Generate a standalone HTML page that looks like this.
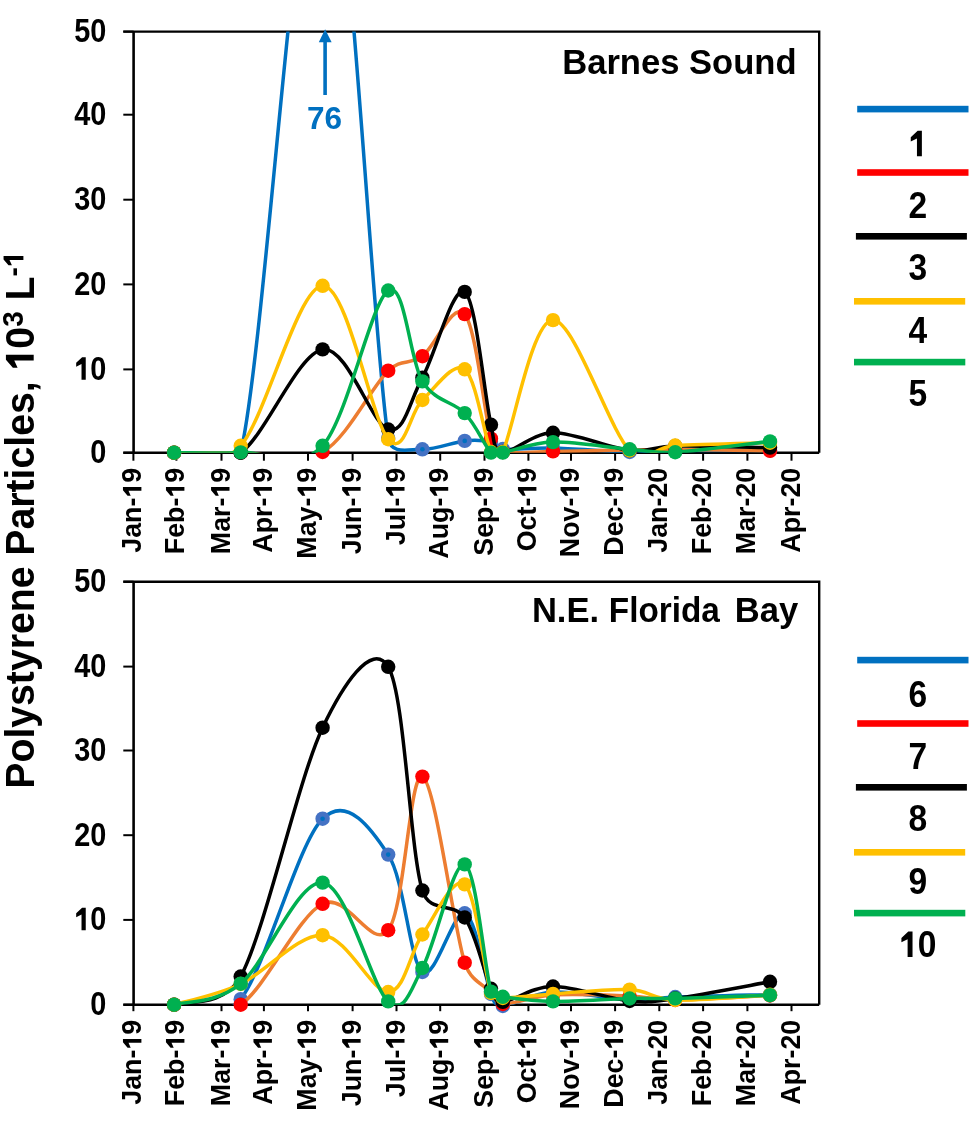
<!DOCTYPE html>
<html><head><meta charset="utf-8"><style>
html,body{margin:0;padding:0;background:#fff;}
body{width:969px;height:1128px;overflow:hidden;}
svg{display:block;will-change:transform;}
text{font-family:"Liberation Sans",sans-serif;font-weight:bold;fill:#000;}
.yt{font-size:32.8px;}
.t76{font-size:31.5px;}
.xt{font-size:26.8px;}
.ttl{font-size:34.6px;}
.lg{font-size:36.9px;}
.yttl{font-size:39.2px;}
.h1{fill-opacity:0;}
text{font-kerning:none;}
</style></head><body>
<svg width="969" height="1128" viewBox="0 0 969 1128">
<defs><clipPath id="c1"><rect x="133.6" y="31.6" width="685.6" height="421.1"/></clipPath><clipPath id="c2"><rect x="133.6" y="581.7" width="685.6" height="423.0"/></clipPath></defs>
<path d="M123.3,31.6 H819.2 V452.7" fill="none" stroke="#000" stroke-width="2.4"/>
<line x1="133.6" y1="31.6" x2="133.6" y2="452.7" stroke="#000" stroke-width="2.6"/>
<line x1="123.3" y1="452.7" x2="819.2" y2="452.7" stroke="#000" stroke-width="2.6"/>
<line x1="123.3" y1="31.6" x2="133.6" y2="31.6" stroke="#000" stroke-width="2"/>
<text class="yt" text-anchor="end" transform="translate(106.3,42.0) scale(0.88,1)">50</text>
<line x1="123.3" y1="114.7" x2="133.6" y2="114.7" stroke="#000" stroke-width="2"/>
<text class="yt" text-anchor="end" transform="translate(106.3,125.1) scale(0.88,1)">40</text>
<line x1="123.3" y1="199.7" x2="133.6" y2="199.7" stroke="#000" stroke-width="2"/>
<text class="yt" text-anchor="end" transform="translate(106.3,210.1) scale(0.88,1)">30</text>
<line x1="123.3" y1="284.4" x2="133.6" y2="284.4" stroke="#000" stroke-width="2"/>
<text class="yt" text-anchor="end" transform="translate(106.3,294.8) scale(0.88,1)">20</text>
<line x1="123.3" y1="369.4" x2="133.6" y2="369.4" stroke="#000" stroke-width="2"/>
<text class="yt" text-anchor="end" transform="translate(106.3,379.8) scale(0.88,1)"><tspan class="h1">1</tspan>0</text>
<line x1="123.3" y1="452.7" x2="133.6" y2="452.7" stroke="#000" stroke-width="2"/>
<text class="yt" text-anchor="end" transform="translate(106.3,463.1) scale(0.88,1)">0</text>
<line x1="133.4" y1="452.7" x2="133.4" y2="460.7" stroke="#000" stroke-width="2"/>
<text class="xt" text-anchor="end" transform="translate(141.4,467.8) rotate(-90)">Jan-<tspan class="h1">1</tspan>9</text>
<line x1="176.4" y1="452.7" x2="176.4" y2="460.7" stroke="#000" stroke-width="2"/>
<text class="xt" text-anchor="end" transform="translate(184.4,467.8) rotate(-90)">Feb-<tspan class="h1">1</tspan>9</text>
<line x1="221.5" y1="452.7" x2="221.5" y2="460.7" stroke="#000" stroke-width="2"/>
<text class="xt" text-anchor="end" transform="translate(229.5,467.8) rotate(-90)">Mar-<tspan class="h1">1</tspan>9</text>
<line x1="263.9" y1="452.7" x2="263.9" y2="460.7" stroke="#000" stroke-width="2"/>
<text class="xt" text-anchor="end" transform="translate(271.9,467.8) rotate(-90)">Apr-<tspan class="h1">1</tspan>9</text>
<line x1="308.0" y1="452.7" x2="308.0" y2="460.7" stroke="#000" stroke-width="2"/>
<text class="xt" text-anchor="end" transform="translate(316.0,467.8) rotate(-90)">May-<tspan class="h1">1</tspan>9</text>
<line x1="352.6" y1="452.7" x2="352.6" y2="460.7" stroke="#000" stroke-width="2"/>
<text class="xt" text-anchor="end" transform="translate(360.6,467.8) rotate(-90)">Jun-<tspan class="h1">1</tspan>9</text>
<line x1="396.5" y1="452.7" x2="396.5" y2="460.7" stroke="#000" stroke-width="2"/>
<text class="xt" text-anchor="end" transform="translate(404.5,467.8) rotate(-90)">Jul-<tspan class="h1">1</tspan>9</text>
<line x1="440.2" y1="452.7" x2="440.2" y2="460.7" stroke="#000" stroke-width="2"/>
<text class="xt" text-anchor="end" transform="translate(448.2,467.8) rotate(-90)">Aug-<tspan class="h1">1</tspan>9</text>
<line x1="484.5" y1="452.7" x2="484.5" y2="460.7" stroke="#000" stroke-width="2"/>
<text class="xt" text-anchor="end" transform="translate(492.5,467.8) rotate(-90)">Sep-<tspan class="h1">1</tspan>9</text>
<line x1="528.4" y1="452.7" x2="528.4" y2="460.7" stroke="#000" stroke-width="2"/>
<text class="xt" text-anchor="end" transform="translate(536.4,467.8) rotate(-90)">Oct-<tspan class="h1">1</tspan>9</text>
<line x1="571.0" y1="452.7" x2="571.0" y2="460.7" stroke="#000" stroke-width="2"/>
<text class="xt" text-anchor="end" transform="translate(579.0,467.8) rotate(-90)">Nov-<tspan class="h1">1</tspan>9</text>
<line x1="615.1" y1="452.7" x2="615.1" y2="460.7" stroke="#000" stroke-width="2"/>
<text class="xt" text-anchor="end" transform="translate(623.1,467.8) rotate(-90)">Dec-<tspan class="h1">1</tspan>9</text>
<line x1="659.3" y1="452.7" x2="659.3" y2="460.7" stroke="#000" stroke-width="2"/>
<text class="xt" text-anchor="end" transform="translate(667.3,467.8) rotate(-90)">Jan-20</text>
<line x1="703.1" y1="452.7" x2="703.1" y2="460.7" stroke="#000" stroke-width="2"/>
<text class="xt" text-anchor="end" transform="translate(711.1,467.8) rotate(-90)">Feb-20</text>
<line x1="747.4" y1="452.7" x2="747.4" y2="460.7" stroke="#000" stroke-width="2"/>
<text class="xt" text-anchor="end" transform="translate(755.4,467.8) rotate(-90)">Mar-20</text>
<line x1="791.5" y1="452.7" x2="791.5" y2="460.7" stroke="#000" stroke-width="2"/>
<text class="xt" text-anchor="end" transform="translate(799.5,467.8) rotate(-90)">Apr-20</text>
<text x="796.6" y="73.5" class="ttl" text-anchor="end">Barnes Sound</text>
<path d="M174.10,452.70 C185.20,452.70 233.18,485.14 240.70,452.70 C265.45,346.00 298.02,-185.07 322.60,-187.52 C347.18,-189.97 371.57,331.86 388.20,438.00 C390.99,455.79 409.65,448.82 422.40,449.30 C435.15,449.78 453.27,442.12 464.70,440.90 C476.13,439.68 484.65,440.65 491.00,442.00 C497.35,443.35 495.97,448.34 502.80,449.00 C513.13,450.00 531.87,447.50 553.00,448.00 C574.13,448.50 609.23,451.58 629.60,452.00 C649.97,452.42 652.39,450.74 675.20,450.50 C698.60,450.25 754.20,450.50 770.00,450.50" fill="none" stroke="#0070C0" stroke-width="3.5" stroke-linejoin="round" clip-path="url(#c1)"/>
<circle cx="174.1" cy="452.7" r="7.2" fill="#4472C4"/>
<circle cx="174.1" cy="452.7" r="2.3" fill="#0070C0"/>
<circle cx="240.7" cy="452.7" r="7.2" fill="#4472C4"/>
<circle cx="240.7" cy="452.7" r="2.3" fill="#0070C0"/>
<circle cx="388.2" cy="438.0" r="7.2" fill="#4472C4"/>
<circle cx="388.2" cy="438.0" r="2.3" fill="#0070C0"/>
<circle cx="422.4" cy="449.3" r="7.2" fill="#4472C4"/>
<circle cx="422.4" cy="449.3" r="2.3" fill="#0070C0"/>
<circle cx="464.7" cy="440.9" r="7.2" fill="#4472C4"/>
<circle cx="464.7" cy="440.9" r="2.3" fill="#0070C0"/>
<circle cx="491.0" cy="442.0" r="7.2" fill="#4472C4"/>
<circle cx="491.0" cy="442.0" r="2.3" fill="#0070C0"/>
<circle cx="502.8" cy="449.0" r="7.2" fill="#4472C4"/>
<circle cx="502.8" cy="449.0" r="2.3" fill="#0070C0"/>
<circle cx="553.0" cy="448.0" r="7.2" fill="#4472C4"/>
<circle cx="553.0" cy="448.0" r="2.3" fill="#0070C0"/>
<circle cx="629.6" cy="452.0" r="7.2" fill="#4472C4"/>
<circle cx="629.6" cy="452.0" r="2.3" fill="#0070C0"/>
<circle cx="675.2" cy="450.5" r="7.2" fill="#4472C4"/>
<circle cx="675.2" cy="450.5" r="2.3" fill="#0070C0"/>
<circle cx="770.0" cy="450.5" r="7.2" fill="#4472C4"/>
<circle cx="770.0" cy="450.5" r="2.3" fill="#0070C0"/>
<path d="M174.10,452.70 C185.20,452.70 215.95,452.82 240.70,452.70 C265.45,452.58 298.02,465.67 322.60,452.00 C347.18,438.33 371.57,386.67 388.20,370.70 C401.60,357.84 409.65,365.63 422.40,356.20 C435.15,346.77 453.27,300.35 464.70,314.10 C476.13,327.85 484.65,415.72 491.00,438.70 C493.37,447.27 494.09,450.22 502.80,452.00 C513.13,454.12 531.87,451.73 553.00,451.40 C574.13,451.07 609.23,450.32 629.60,450.00 C649.97,449.68 652.40,449.37 675.20,449.50 C698.60,449.63 754.20,450.58 770.00,450.80" fill="none" stroke="#ED7D31" stroke-width="3.5" stroke-linejoin="round" clip-path="url(#c1)"/>
<circle cx="174.1" cy="452.7" r="7.2" fill="#FF0000"/>
<circle cx="240.7" cy="452.7" r="7.2" fill="#FF0000"/>
<circle cx="322.6" cy="452.0" r="7.2" fill="#FF0000"/>
<circle cx="388.2" cy="370.7" r="7.2" fill="#FF0000"/>
<circle cx="422.4" cy="356.2" r="7.2" fill="#FF0000"/>
<circle cx="464.7" cy="314.1" r="7.2" fill="#FF0000"/>
<circle cx="491.0" cy="438.7" r="7.2" fill="#FF0000"/>
<circle cx="502.8" cy="452.0" r="7.2" fill="#FF0000"/>
<circle cx="553.0" cy="451.4" r="7.2" fill="#FF0000"/>
<circle cx="629.6" cy="450.0" r="7.2" fill="#FF0000"/>
<circle cx="675.2" cy="449.5" r="7.2" fill="#FF0000"/>
<circle cx="770.0" cy="450.8" r="7.2" fill="#FF0000"/>
<path d="M174.10,452.70 C185.20,452.70 215.95,469.92 240.70,452.70 C265.45,435.48 298.02,353.27 322.60,349.40 C347.18,345.53 371.57,424.78 388.20,429.50 C404.83,434.22 409.65,400.63 422.40,377.70 C435.15,354.77 453.27,284.05 464.70,291.90 C476.13,299.75 484.65,398.12 491.00,424.80 C494.43,439.22 492.47,450.67 502.80,452.00 C513.13,453.33 531.87,433.08 553.00,432.80 C574.13,432.52 609.23,448.10 629.60,450.30 C649.97,452.50 652.30,446.44 675.20,446.00 C698.60,445.55 754.20,447.33 770.00,447.60" fill="none" stroke="#000000" stroke-width="3.5" stroke-linejoin="round" clip-path="url(#c1)"/>
<circle cx="174.1" cy="452.7" r="7.2" fill="#000000"/>
<circle cx="240.7" cy="452.7" r="7.2" fill="#000000"/>
<circle cx="322.6" cy="349.4" r="7.2" fill="#000000"/>
<circle cx="388.2" cy="429.5" r="7.2" fill="#000000"/>
<circle cx="422.4" cy="377.7" r="7.2" fill="#000000"/>
<circle cx="464.7" cy="291.9" r="7.2" fill="#000000"/>
<circle cx="491.0" cy="424.8" r="7.2" fill="#000000"/>
<circle cx="502.8" cy="452.0" r="7.2" fill="#000000"/>
<circle cx="553.0" cy="432.8" r="7.2" fill="#000000"/>
<circle cx="629.6" cy="450.3" r="7.2" fill="#000000"/>
<circle cx="675.2" cy="446.0" r="7.2" fill="#000000"/>
<circle cx="770.0" cy="447.6" r="7.2" fill="#000000"/>
<path d="M174.10,452.70 C185.20,451.55 218.45,470.81 240.70,445.80 C265.45,417.98 298.02,286.90 322.60,285.80 C347.18,284.70 371.57,420.17 388.20,439.20 C404.83,458.23 409.65,411.65 422.40,400.00 C435.15,388.35 453.27,360.63 464.70,369.30 C476.13,377.97 484.65,438.22 491.00,452.00 C493.47,457.36 500.29,457.34 502.80,452.00 C513.13,430.02 531.87,320.35 553.00,320.10 C574.13,319.85 609.23,429.60 629.60,450.50 C645.61,466.93 652.30,446.77 675.20,445.50 C698.60,444.20 754.20,443.17 770.00,442.70" fill="none" stroke="#FFC000" stroke-width="3.5" stroke-linejoin="round" clip-path="url(#c1)"/>
<circle cx="174.1" cy="452.7" r="7.2" fill="#FFC000"/>
<circle cx="240.7" cy="445.8" r="7.2" fill="#FFC000"/>
<circle cx="322.6" cy="285.8" r="7.2" fill="#FFC000"/>
<circle cx="388.2" cy="439.2" r="7.2" fill="#FFC000"/>
<circle cx="422.4" cy="400.0" r="7.2" fill="#FFC000"/>
<circle cx="464.7" cy="369.3" r="7.2" fill="#FFC000"/>
<circle cx="491.0" cy="452.0" r="7.2" fill="#FFC000"/>
<circle cx="502.8" cy="452.0" r="7.2" fill="#FFC000"/>
<circle cx="553.0" cy="320.1" r="7.2" fill="#FFC000"/>
<circle cx="629.6" cy="450.5" r="7.2" fill="#FFC000"/>
<circle cx="675.2" cy="445.5" r="7.2" fill="#FFC000"/>
<circle cx="770.0" cy="442.7" r="7.2" fill="#FFC000"/>
<path d="M174.10,452.70 C185.20,452.65 215.95,453.55 240.70,452.40 C265.45,451.25 298.02,472.78 322.60,445.80 C347.18,418.82 371.57,301.23 388.20,290.50 C404.83,279.77 409.65,360.97 422.40,381.40 C435.15,401.83 453.27,401.23 464.70,413.10 C476.13,424.97 484.65,446.02 491.00,452.60 C495.10,456.85 496.98,453.59 502.80,452.60 C513.13,450.85 531.87,442.65 553.00,442.10 C574.13,441.55 609.23,447.62 629.60,449.30 C649.97,450.98 652.39,453.48 675.20,452.20 C698.60,450.88 754.20,443.20 770.00,441.40" fill="none" stroke="#00B050" stroke-width="3.5" stroke-linejoin="round" clip-path="url(#c1)"/>
<circle cx="174.1" cy="452.7" r="7.2" fill="#00B050"/>
<circle cx="240.7" cy="452.4" r="7.2" fill="#00B050"/>
<circle cx="322.6" cy="445.8" r="7.2" fill="#00B050"/>
<circle cx="388.2" cy="290.5" r="7.2" fill="#00B050"/>
<circle cx="422.4" cy="381.4" r="7.2" fill="#00B050"/>
<circle cx="464.7" cy="413.1" r="7.2" fill="#00B050"/>
<circle cx="491.0" cy="452.6" r="7.2" fill="#00B050"/>
<circle cx="502.8" cy="452.6" r="7.2" fill="#00B050"/>
<circle cx="553.0" cy="442.1" r="7.2" fill="#00B050"/>
<circle cx="629.6" cy="449.3" r="7.2" fill="#00B050"/>
<circle cx="675.2" cy="452.2" r="7.2" fill="#00B050"/>
<circle cx="770.0" cy="441.4" r="7.2" fill="#00B050"/>
<line x1="325.1" y1="95" x2="325.1" y2="40" stroke="#0070C0" stroke-width="3.6"/>
<path d="M318.8,42.3 L325.1,29.2 L331.6,42.3 Z" fill="#0070C0"/>
<text x="324.4" y="129" class="t76" text-anchor="middle" style="fill:#0070C0">76</text>
<rect x="857.2" y="105.8" width="111.3" height="6.6" fill="#0070C0"/>
<rect x="857.2" y="169.2" width="111.3" height="6.6" fill="#FF0000"/>
<rect x="855.9" y="233.0" width="111.0" height="6.6" fill="#000000"/>
<rect x="854.0" y="298.0" width="111.2" height="6.6" fill="#FFC000"/>
<rect x="854.0" y="358.8" width="111.3" height="6.6" fill="#00B050"/>
<text class="lg" text-anchor="middle" transform="translate(917.8,156.2) scale(0.91,1)"><tspan class="h1">1</tspan></text>
<text class="lg" text-anchor="middle" transform="translate(917.8,217.5) scale(0.91,1)">2</text>
<text class="lg" text-anchor="middle" transform="translate(917.8,280.2) scale(0.91,1)">3</text>
<text class="lg" text-anchor="middle" transform="translate(917.8,343.1) scale(0.91,1)">4</text>
<text class="lg" text-anchor="middle" transform="translate(917.8,406.0) scale(0.91,1)">5</text>
<path d="M123.3,581.7 H819.2 V1004.7" fill="none" stroke="#000" stroke-width="2.4"/>
<line x1="133.6" y1="581.7" x2="133.6" y2="1004.7" stroke="#000" stroke-width="2.6"/>
<line x1="123.3" y1="1004.7" x2="819.2" y2="1004.7" stroke="#000" stroke-width="2.6"/>
<line x1="123.3" y1="581.7" x2="133.6" y2="581.7" stroke="#000" stroke-width="2"/>
<text class="yt" text-anchor="end" transform="translate(106.3,592.1) scale(0.88,1)">50</text>
<line x1="123.3" y1="666.6" x2="133.6" y2="666.6" stroke="#000" stroke-width="2"/>
<text class="yt" text-anchor="end" transform="translate(106.3,677.0) scale(0.88,1)">40</text>
<line x1="123.3" y1="750.5" x2="133.6" y2="750.5" stroke="#000" stroke-width="2"/>
<text class="yt" text-anchor="end" transform="translate(106.3,760.9) scale(0.88,1)">30</text>
<line x1="123.3" y1="835.2" x2="133.6" y2="835.2" stroke="#000" stroke-width="2"/>
<text class="yt" text-anchor="end" transform="translate(106.3,845.6) scale(0.88,1)">20</text>
<line x1="123.3" y1="919.9" x2="133.6" y2="919.9" stroke="#000" stroke-width="2"/>
<text class="yt" text-anchor="end" transform="translate(106.3,930.3) scale(0.88,1)"><tspan class="h1">1</tspan>0</text>
<line x1="123.3" y1="1004.7" x2="133.6" y2="1004.7" stroke="#000" stroke-width="2"/>
<text class="yt" text-anchor="end" transform="translate(106.3,1015.1) scale(0.88,1)">0</text>
<line x1="133.4" y1="1004.7" x2="133.4" y2="1011.2" stroke="#000" stroke-width="2"/>
<text class="xt" text-anchor="end" transform="translate(141.4,1019.8) rotate(-90)">Jan-<tspan class="h1">1</tspan>9</text>
<line x1="176.4" y1="1004.7" x2="176.4" y2="1011.2" stroke="#000" stroke-width="2"/>
<text class="xt" text-anchor="end" transform="translate(184.4,1019.8) rotate(-90)">Feb-<tspan class="h1">1</tspan>9</text>
<line x1="221.5" y1="1004.7" x2="221.5" y2="1011.2" stroke="#000" stroke-width="2"/>
<text class="xt" text-anchor="end" transform="translate(229.5,1019.8) rotate(-90)">Mar-<tspan class="h1">1</tspan>9</text>
<line x1="263.9" y1="1004.7" x2="263.9" y2="1011.2" stroke="#000" stroke-width="2"/>
<text class="xt" text-anchor="end" transform="translate(271.9,1019.8) rotate(-90)">Apr-<tspan class="h1">1</tspan>9</text>
<line x1="308.0" y1="1004.7" x2="308.0" y2="1011.2" stroke="#000" stroke-width="2"/>
<text class="xt" text-anchor="end" transform="translate(316.0,1019.8) rotate(-90)">May-<tspan class="h1">1</tspan>9</text>
<line x1="352.6" y1="1004.7" x2="352.6" y2="1011.2" stroke="#000" stroke-width="2"/>
<text class="xt" text-anchor="end" transform="translate(360.6,1019.8) rotate(-90)">Jun-<tspan class="h1">1</tspan>9</text>
<line x1="396.5" y1="1004.7" x2="396.5" y2="1011.2" stroke="#000" stroke-width="2"/>
<text class="xt" text-anchor="end" transform="translate(404.5,1019.8) rotate(-90)">Jul-<tspan class="h1">1</tspan>9</text>
<line x1="440.2" y1="1004.7" x2="440.2" y2="1011.2" stroke="#000" stroke-width="2"/>
<text class="xt" text-anchor="end" transform="translate(448.2,1019.8) rotate(-90)">Aug-<tspan class="h1">1</tspan>9</text>
<line x1="484.5" y1="1004.7" x2="484.5" y2="1011.2" stroke="#000" stroke-width="2"/>
<text class="xt" text-anchor="end" transform="translate(492.5,1019.8) rotate(-90)">Sep-<tspan class="h1">1</tspan>9</text>
<line x1="528.4" y1="1004.7" x2="528.4" y2="1011.2" stroke="#000" stroke-width="2"/>
<text class="xt" text-anchor="end" transform="translate(536.4,1019.8) rotate(-90)">Oct-<tspan class="h1">1</tspan>9</text>
<line x1="571.0" y1="1004.7" x2="571.0" y2="1011.2" stroke="#000" stroke-width="2"/>
<text class="xt" text-anchor="end" transform="translate(579.0,1019.8) rotate(-90)">Nov-<tspan class="h1">1</tspan>9</text>
<line x1="615.1" y1="1004.7" x2="615.1" y2="1011.2" stroke="#000" stroke-width="2"/>
<text class="xt" text-anchor="end" transform="translate(623.1,1019.8) rotate(-90)">Dec-<tspan class="h1">1</tspan>9</text>
<line x1="659.3" y1="1004.7" x2="659.3" y2="1011.2" stroke="#000" stroke-width="2"/>
<text class="xt" text-anchor="end" transform="translate(667.3,1019.8) rotate(-90)">Jan-20</text>
<line x1="703.1" y1="1004.7" x2="703.1" y2="1011.2" stroke="#000" stroke-width="2"/>
<text class="xt" text-anchor="end" transform="translate(711.1,1019.8) rotate(-90)">Feb-20</text>
<line x1="747.4" y1="1004.7" x2="747.4" y2="1011.2" stroke="#000" stroke-width="2"/>
<text class="xt" text-anchor="end" transform="translate(755.4,1019.8) rotate(-90)">Mar-20</text>
<line x1="791.5" y1="1004.7" x2="791.5" y2="1011.2" stroke="#000" stroke-width="2"/>
<text class="xt" text-anchor="end" transform="translate(799.5,1019.8) rotate(-90)">Apr-20</text>
<text x="531.9" y="621.9" class="ttl">N.E.</text>
<text class="ttl" transform="translate(608.8,621.9) scale(0.963,1)">Florida</text>
<text x="798.3" y="621.9" class="ttl" text-anchor="end">Bay</text>
<path d="M174.10,1004.70 C185.20,1003.78 219.85,1025.31 240.70,999.20 C265.45,968.20 298.02,842.80 322.60,818.70 C347.18,794.60 371.57,829.05 388.20,854.60 C404.83,880.15 409.65,962.22 422.40,972.00 C435.15,981.78 453.27,909.63 464.70,913.30 C476.13,916.97 484.65,978.55 491.00,994.00 C494.20,1001.78 494.39,1006.27 502.80,1006.00 C513.13,1005.67 531.87,993.00 553.00,992.00 C574.13,991.00 609.23,999.17 629.60,1000.00 C649.97,1000.83 652.37,997.89 675.20,997.00 C698.60,996.08 754.20,994.92 770.00,994.50" fill="none" stroke="#0070C0" stroke-width="3.5" stroke-linejoin="round" clip-path="url(#c2)"/>
<circle cx="174.1" cy="1004.7" r="7.2" fill="#4472C4"/>
<circle cx="174.1" cy="1004.7" r="2.3" fill="#0070C0"/>
<circle cx="240.7" cy="999.2" r="7.2" fill="#4472C4"/>
<circle cx="240.7" cy="999.2" r="2.3" fill="#0070C0"/>
<circle cx="322.6" cy="818.7" r="7.2" fill="#4472C4"/>
<circle cx="322.6" cy="818.7" r="2.3" fill="#0070C0"/>
<circle cx="388.2" cy="854.6" r="7.2" fill="#4472C4"/>
<circle cx="388.2" cy="854.6" r="2.3" fill="#0070C0"/>
<circle cx="422.4" cy="972.0" r="7.2" fill="#4472C4"/>
<circle cx="422.4" cy="972.0" r="2.3" fill="#0070C0"/>
<circle cx="464.7" cy="913.3" r="7.2" fill="#4472C4"/>
<circle cx="464.7" cy="913.3" r="2.3" fill="#0070C0"/>
<circle cx="491.0" cy="994.0" r="7.2" fill="#4472C4"/>
<circle cx="491.0" cy="994.0" r="2.3" fill="#0070C0"/>
<circle cx="502.8" cy="1006.0" r="7.2" fill="#4472C4"/>
<circle cx="502.8" cy="1006.0" r="2.3" fill="#0070C0"/>
<circle cx="553.0" cy="992.0" r="7.2" fill="#4472C4"/>
<circle cx="553.0" cy="992.0" r="2.3" fill="#0070C0"/>
<circle cx="629.6" cy="1000.0" r="7.2" fill="#4472C4"/>
<circle cx="629.6" cy="1000.0" r="2.3" fill="#0070C0"/>
<circle cx="675.2" cy="997.0" r="7.2" fill="#4472C4"/>
<circle cx="675.2" cy="997.0" r="2.3" fill="#0070C0"/>
<circle cx="770.0" cy="994.5" r="7.2" fill="#4472C4"/>
<circle cx="770.0" cy="994.5" r="2.3" fill="#0070C0"/>
<path d="M174.10,1004.70 C185.20,1004.70 215.95,1021.52 240.70,1004.70 C265.45,987.88 298.02,916.22 322.60,903.80 C347.18,891.38 371.57,951.40 388.20,930.20 C404.83,909.00 409.65,771.18 422.40,776.60 C435.15,782.02 453.27,926.80 464.70,962.70 C470.67,981.46 484.65,985.12 491.00,992.00 C496.71,998.18 494.39,1003.59 502.80,1004.00 C513.13,1004.50 531.87,996.33 553.00,995.00 C574.13,993.67 609.23,995.17 629.60,996.00 C649.97,996.83 652.31,1000.08 675.20,1000.00 C698.60,999.92 754.20,996.25 770.00,995.50" fill="none" stroke="#ED7D31" stroke-width="3.5" stroke-linejoin="round" clip-path="url(#c2)"/>
<circle cx="174.1" cy="1004.7" r="7.2" fill="#FF0000"/>
<circle cx="240.7" cy="1004.7" r="7.2" fill="#FF0000"/>
<circle cx="322.6" cy="903.8" r="7.2" fill="#FF0000"/>
<circle cx="388.2" cy="930.2" r="7.2" fill="#FF0000"/>
<circle cx="422.4" cy="776.6" r="7.2" fill="#FF0000"/>
<circle cx="464.7" cy="962.7" r="7.2" fill="#FF0000"/>
<circle cx="491.0" cy="992.0" r="7.2" fill="#FF0000"/>
<circle cx="502.8" cy="1004.0" r="7.2" fill="#FF0000"/>
<circle cx="553.0" cy="995.0" r="7.2" fill="#FF0000"/>
<circle cx="629.6" cy="996.0" r="7.2" fill="#FF0000"/>
<circle cx="675.2" cy="1000.0" r="7.2" fill="#FF0000"/>
<circle cx="770.0" cy="995.5" r="7.2" fill="#FF0000"/>
<path d="M174.10,1004.70 C185.20,1000.00 223.61,1008.37 240.70,976.50 C265.45,930.33 298.02,779.32 322.60,727.70 C341.84,687.29 371.57,639.67 388.20,666.80 C404.83,693.93 409.65,848.72 422.40,890.50 C429.72,914.50 453.27,901.12 464.70,917.50 C476.13,933.88 484.65,974.75 491.00,988.80 C494.62,996.80 494.03,1002.13 502.80,1001.80 C513.13,1001.42 531.87,986.63 553.00,986.50 C574.13,986.37 609.23,999.00 629.60,1001.00 C649.97,1003.00 652.58,1001.59 675.20,998.50 C698.60,995.30 754.20,984.58 770.00,981.80" fill="none" stroke="#000000" stroke-width="3.5" stroke-linejoin="round" clip-path="url(#c2)"/>
<circle cx="174.1" cy="1004.7" r="7.2" fill="#000000"/>
<circle cx="240.7" cy="976.5" r="7.2" fill="#000000"/>
<circle cx="322.6" cy="727.7" r="7.2" fill="#000000"/>
<circle cx="388.2" cy="666.8" r="7.2" fill="#000000"/>
<circle cx="422.4" cy="890.5" r="7.2" fill="#000000"/>
<circle cx="464.7" cy="917.5" r="7.2" fill="#000000"/>
<circle cx="491.0" cy="988.8" r="7.2" fill="#000000"/>
<circle cx="502.8" cy="1001.8" r="7.2" fill="#000000"/>
<circle cx="553.0" cy="986.5" r="7.2" fill="#000000"/>
<circle cx="629.6" cy="1001.0" r="7.2" fill="#000000"/>
<circle cx="675.2" cy="998.5" r="7.2" fill="#000000"/>
<circle cx="770.0" cy="981.8" r="7.2" fill="#000000"/>
<path d="M174.10,1004.70 C185.20,1001.25 215.95,995.58 240.70,984.00 C265.45,972.42 298.02,933.87 322.60,935.20 C347.18,936.53 371.57,992.12 388.20,992.00 C404.83,991.88 409.65,952.43 422.40,934.50 C435.15,916.57 453.27,874.65 464.70,884.40 C476.13,894.15 484.65,974.07 491.00,993.00 C493.04,999.08 496.39,997.91 502.80,998.00 C513.13,998.15 531.87,995.30 553.00,993.90 C574.13,992.50 609.23,988.58 629.60,989.60 C649.97,990.62 651.83,999.13 675.20,1000.00 C698.60,1000.87 754.20,995.67 770.00,994.80" fill="none" stroke="#FFC000" stroke-width="3.5" stroke-linejoin="round" clip-path="url(#c2)"/>
<circle cx="174.1" cy="1004.7" r="7.2" fill="#FFC000"/>
<circle cx="240.7" cy="984.0" r="7.2" fill="#FFC000"/>
<circle cx="322.6" cy="935.2" r="7.2" fill="#FFC000"/>
<circle cx="388.2" cy="992.0" r="7.2" fill="#FFC000"/>
<circle cx="422.4" cy="934.5" r="7.2" fill="#FFC000"/>
<circle cx="464.7" cy="884.4" r="7.2" fill="#FFC000"/>
<circle cx="491.0" cy="993.0" r="7.2" fill="#FFC000"/>
<circle cx="502.8" cy="998.0" r="7.2" fill="#FFC000"/>
<circle cx="553.0" cy="993.9" r="7.2" fill="#FFC000"/>
<circle cx="629.6" cy="989.6" r="7.2" fill="#FFC000"/>
<circle cx="675.2" cy="1000.0" r="7.2" fill="#FFC000"/>
<circle cx="770.0" cy="994.8" r="7.2" fill="#FFC000"/>
<path d="M174.10,1004.70 C185.20,1001.20 215.95,1004.05 240.70,983.70 C265.45,963.35 298.02,879.65 322.60,882.60 C347.18,885.55 371.57,987.17 388.20,1001.40 C404.83,1015.63 410.75,988.87 422.40,968.00 C435.15,945.17 453.27,860.47 464.70,864.40 C476.13,868.33 484.65,969.53 491.00,991.60 C492.78,997.80 496.43,995.79 502.80,996.80 C513.13,998.43 531.87,1001.12 553.00,1001.40 C574.13,1001.68 609.23,999.00 629.60,998.50 C649.97,998.00 652.41,998.94 675.20,998.40 C698.60,997.85 754.20,995.73 770.00,995.20" fill="none" stroke="#00B050" stroke-width="3.5" stroke-linejoin="round" clip-path="url(#c2)"/>
<circle cx="174.1" cy="1004.7" r="7.2" fill="#00B050"/>
<circle cx="240.7" cy="983.7" r="7.2" fill="#00B050"/>
<circle cx="322.6" cy="882.6" r="7.2" fill="#00B050"/>
<circle cx="388.2" cy="1001.4" r="7.2" fill="#00B050"/>
<circle cx="422.4" cy="968.0" r="7.2" fill="#00B050"/>
<circle cx="464.7" cy="864.4" r="7.2" fill="#00B050"/>
<circle cx="491.0" cy="991.6" r="7.2" fill="#00B050"/>
<circle cx="502.8" cy="996.8" r="7.2" fill="#00B050"/>
<circle cx="553.0" cy="1001.4" r="7.2" fill="#00B050"/>
<circle cx="629.6" cy="998.5" r="7.2" fill="#00B050"/>
<circle cx="675.2" cy="998.4" r="7.2" fill="#00B050"/>
<circle cx="770.0" cy="995.2" r="7.2" fill="#00B050"/>
<rect x="857.2" y="656.8" width="111.3" height="6.6" fill="#0070C0"/>
<rect x="857.2" y="720.2" width="111.3" height="6.6" fill="#FF0000"/>
<rect x="855.9" y="784.0" width="111.0" height="6.6" fill="#000000"/>
<rect x="854.0" y="849.0" width="111.2" height="6.6" fill="#FFC000"/>
<rect x="854.0" y="909.8" width="111.3" height="6.6" fill="#00B050"/>
<text class="lg" text-anchor="middle" transform="translate(917.8,707.2) scale(0.91,1)">6</text>
<text class="lg" text-anchor="middle" transform="translate(917.8,768.5) scale(0.91,1)">7</text>
<text class="lg" text-anchor="middle" transform="translate(917.8,831.2) scale(0.91,1)">8</text>
<text class="lg" text-anchor="middle" transform="translate(917.8,894.1) scale(0.91,1)">9</text>
<text class="lg" text-anchor="middle" transform="translate(917.8,957.0) scale(0.91,1)"><tspan class="h1">1</tspan>0</text>
<text class="yttl" transform="translate(33.7,788.7) rotate(-90) scale(1,1.03)">Polystyrene Particles, <tspan class="h1">1</tspan>0<tspan dy="-10" font-size="28">3</tspan><tspan dy="10"> L</tspan><tspan dy="-10" font-size="28">-<tspan class="h1">1</tspan></tspan></text>
<path transform="translate(106.3,379.8) scale(0.88,1) translate(-36.46,0.00)" d="M8.30,0.00 L8.30,-15.79 L2.24,-13.08 L2.24,-16.93 L8.97,-22.57 L13.10,-22.57 L13.10,0.00 Z"/>
<path transform="translate(141.4,467.8) rotate(-90) translate(-29.81,0.00)" d="M6.78,0.00 L6.78,-12.90 L1.83,-10.69 L1.83,-13.83 L7.33,-18.44 L10.70,-18.44 L10.70,0.00 Z"/>
<path transform="translate(184.4,467.8) rotate(-90) translate(-29.81,0.00)" d="M6.78,0.00 L6.78,-12.90 L1.83,-10.69 L1.83,-13.83 L7.33,-18.44 L10.70,-18.44 L10.70,0.00 Z"/>
<path transform="translate(229.5,467.8) rotate(-90) translate(-29.81,0.00)" d="M6.78,0.00 L6.78,-12.90 L1.83,-10.69 L1.83,-13.83 L7.33,-18.44 L10.70,-18.44 L10.70,0.00 Z"/>
<path transform="translate(271.9,467.8) rotate(-90) translate(-29.81,0.00)" d="M6.78,0.00 L6.78,-12.90 L1.83,-10.69 L1.83,-13.83 L7.33,-18.44 L10.70,-18.44 L10.70,0.00 Z"/>
<path transform="translate(316.0,467.8) rotate(-90) translate(-29.81,0.00)" d="M6.78,0.00 L6.78,-12.90 L1.83,-10.69 L1.83,-13.83 L7.33,-18.44 L10.70,-18.44 L10.70,0.00 Z"/>
<path transform="translate(360.6,467.8) rotate(-90) translate(-29.81,0.00)" d="M6.78,0.00 L6.78,-12.90 L1.83,-10.69 L1.83,-13.83 L7.33,-18.44 L10.70,-18.44 L10.70,0.00 Z"/>
<path transform="translate(404.5,467.8) rotate(-90) translate(-29.81,0.00)" d="M6.78,0.00 L6.78,-12.90 L1.83,-10.69 L1.83,-13.83 L7.33,-18.44 L10.70,-18.44 L10.70,0.00 Z"/>
<path transform="translate(448.2,467.8) rotate(-90) translate(-29.81,0.00)" d="M6.78,0.00 L6.78,-12.90 L1.83,-10.69 L1.83,-13.83 L7.33,-18.44 L10.70,-18.44 L10.70,0.00 Z"/>
<path transform="translate(492.5,467.8) rotate(-90) translate(-29.81,0.00)" d="M6.78,0.00 L6.78,-12.90 L1.83,-10.69 L1.83,-13.83 L7.33,-18.44 L10.70,-18.44 L10.70,0.00 Z"/>
<path transform="translate(536.4,467.8) rotate(-90) translate(-29.81,0.00)" d="M6.78,0.00 L6.78,-12.90 L1.83,-10.69 L1.83,-13.83 L7.33,-18.44 L10.70,-18.44 L10.70,0.00 Z"/>
<path transform="translate(579.0,467.8) rotate(-90) translate(-29.81,0.00)" d="M6.78,0.00 L6.78,-12.90 L1.83,-10.69 L1.83,-13.83 L7.33,-18.44 L10.70,-18.44 L10.70,0.00 Z"/>
<path transform="translate(623.1,467.8) rotate(-90) translate(-29.81,0.00)" d="M6.78,0.00 L6.78,-12.90 L1.83,-10.69 L1.83,-13.83 L7.33,-18.44 L10.70,-18.44 L10.70,0.00 Z"/>
<path transform="translate(917.8,156.2) scale(0.91,1) translate(-10.26,0.00)" d="M9.33,0.00 L9.33,-17.77 L2.52,-14.72 L2.52,-19.04 L10.09,-25.39 L14.74,-25.39 L14.74,0.00 Z"/>
<path transform="translate(106.3,930.3) scale(0.88,1) translate(-36.46,0.00)" d="M8.30,0.00 L8.30,-15.79 L2.24,-13.08 L2.24,-16.93 L8.97,-22.57 L13.10,-22.57 L13.10,0.00 Z"/>
<path transform="translate(141.4,1019.8) rotate(-90) translate(-29.81,0.00)" d="M6.78,0.00 L6.78,-12.90 L1.83,-10.69 L1.83,-13.83 L7.33,-18.44 L10.70,-18.44 L10.70,0.00 Z"/>
<path transform="translate(184.4,1019.8) rotate(-90) translate(-29.81,0.00)" d="M6.78,0.00 L6.78,-12.90 L1.83,-10.69 L1.83,-13.83 L7.33,-18.44 L10.70,-18.44 L10.70,0.00 Z"/>
<path transform="translate(229.5,1019.8) rotate(-90) translate(-29.81,0.00)" d="M6.78,0.00 L6.78,-12.90 L1.83,-10.69 L1.83,-13.83 L7.33,-18.44 L10.70,-18.44 L10.70,0.00 Z"/>
<path transform="translate(271.9,1019.8) rotate(-90) translate(-29.81,0.00)" d="M6.78,0.00 L6.78,-12.90 L1.83,-10.69 L1.83,-13.83 L7.33,-18.44 L10.70,-18.44 L10.70,0.00 Z"/>
<path transform="translate(316.0,1019.8) rotate(-90) translate(-29.81,0.00)" d="M6.78,0.00 L6.78,-12.90 L1.83,-10.69 L1.83,-13.83 L7.33,-18.44 L10.70,-18.44 L10.70,0.00 Z"/>
<path transform="translate(360.6,1019.8) rotate(-90) translate(-29.81,0.00)" d="M6.78,0.00 L6.78,-12.90 L1.83,-10.69 L1.83,-13.83 L7.33,-18.44 L10.70,-18.44 L10.70,0.00 Z"/>
<path transform="translate(404.5,1019.8) rotate(-90) translate(-29.81,0.00)" d="M6.78,0.00 L6.78,-12.90 L1.83,-10.69 L1.83,-13.83 L7.33,-18.44 L10.70,-18.44 L10.70,0.00 Z"/>
<path transform="translate(448.2,1019.8) rotate(-90) translate(-29.81,0.00)" d="M6.78,0.00 L6.78,-12.90 L1.83,-10.69 L1.83,-13.83 L7.33,-18.44 L10.70,-18.44 L10.70,0.00 Z"/>
<path transform="translate(492.5,1019.8) rotate(-90) translate(-29.81,0.00)" d="M6.78,0.00 L6.78,-12.90 L1.83,-10.69 L1.83,-13.83 L7.33,-18.44 L10.70,-18.44 L10.70,0.00 Z"/>
<path transform="translate(536.4,1019.8) rotate(-90) translate(-29.81,0.00)" d="M6.78,0.00 L6.78,-12.90 L1.83,-10.69 L1.83,-13.83 L7.33,-18.44 L10.70,-18.44 L10.70,0.00 Z"/>
<path transform="translate(579.0,1019.8) rotate(-90) translate(-29.81,0.00)" d="M6.78,0.00 L6.78,-12.90 L1.83,-10.69 L1.83,-13.83 L7.33,-18.44 L10.70,-18.44 L10.70,0.00 Z"/>
<path transform="translate(623.1,1019.8) rotate(-90) translate(-29.81,0.00)" d="M6.78,0.00 L6.78,-12.90 L1.83,-10.69 L1.83,-13.83 L7.33,-18.44 L10.70,-18.44 L10.70,0.00 Z"/>
<path transform="translate(917.8,957.0) scale(0.91,1) translate(-20.53,0.00)" d="M9.33,0.00 L9.33,-17.77 L2.52,-14.72 L2.52,-19.04 L10.09,-25.39 L14.74,-25.39 L14.74,0.00 Z"/>
<path transform="translate(33.7,788.7) rotate(-90) scale(1,1.03) translate(418.24,0.00)" d="M9.91,0.00 L9.91,-18.87 L2.68,-15.64 L2.68,-20.23 L10.72,-26.97 L15.66,-26.97 L15.66,0.00 Z"/>
<path transform="translate(33.7,788.7) rotate(-90) scale(1,1.03) translate(521.57,-10.00)" d="M7.08,0.00 L7.08,-13.48 L1.91,-11.17 L1.91,-14.45 L7.66,-19.26 L11.18,-19.26 L11.18,0.00 Z"/>
</svg>
</body></html>
